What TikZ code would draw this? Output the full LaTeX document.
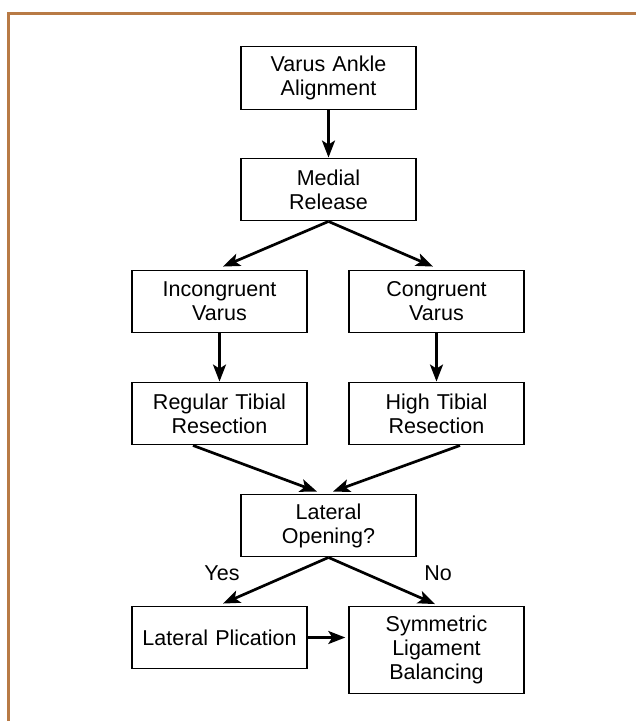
\documentclass[tikz,border=0pt]{standalone}
\usepackage{fontspec}
\setmainfont{Liberation Sans}
\usetikzlibrary{arrows.meta}
\definecolor{framebrown}{RGB}{184,122,69}

\begin{document}
\begin{tikzpicture}[x=1pt,y=-1pt,
    stepbox/.style={draw=black,line width=1.4pt,minimum width=175pt,minimum height=62.5pt,
                    text width=172pt,align=center,inner sep=0pt,
                    font=\fontsize{21.5}{24}\selectfont},
    flow/.style={line width=2.7pt,-{Stealth[length=17pt,width=13pt,inset=4pt]}},
    answer/.style={font=\fontsize{21.5}{24}\selectfont}]
      \useasboundingbox (0,0) rectangle (636,721);
      \draw[framebrown,line width=2.6pt] (8.5,721) -- (8.5,13.5) -- (636,13.5);
      % boxes
      \node[stepbox] (varus) at (328.5,78) {Varus Ankle\\Alignment};
      \node[stepbox] (medial) at (328.5,189.5) {Medial\\Release};
      \node[stepbox] (incong) at (219.5,301.5) {Incongruent\\Varus};
      \node[stepbox] (cong) at (436.5,301.5) {Congruent\\Varus};
      \node[stepbox] (regular) at (219.5,413.5) {Regular Tibial\\Resection};
      \node[stepbox] (high) at (436.5,413.5) {High Tibial\\Resection};
      \node[stepbox] (lateral) at (328.5,525.5) {Lateral\\Opening?};
      \node[stepbox] (plication) at (219.5,637.5) {Lateral Plication};
      \node[stepbox,minimum height=86.5pt] (symmetric) at (436.5,650) {Symmetric\\Ligament\\Balancing};
      \node[answer] (yes) at (222,573) {Yes};
      \node[answer] (no) at (438,573) {No};
      % arrows
      \draw[flow] (varus.south) -- (medial.north);
      \draw[flow] (medial.south) -- ([xshift=3.5pt,yshift=3pt]incong.north);
      \draw[flow] (medial.south) -- ([xshift=-3.5pt,yshift=3pt]cong.north);
      \draw[flow] (incong.south) -- (regular.north);
      \draw[flow] (cong.south) -- (high.north);
      \draw[flow] ([xshift=-26.5pt]regular.south) -- ([xshift=-11.5pt,yshift=2pt]lateral.north);
      \draw[flow] ([xshift=23.5pt]high.south) -- ([xshift=4.5pt,yshift=2pt]lateral.north);
      \draw[flow] (lateral.south) -- ([xshift=3.5pt,yshift=2pt]plication.north);
      \draw[flow] (lateral.south) -- ([xshift=-1.5pt,yshift=2pt]symmetric.north);
      \draw[flow] (plication.east) -- ([xshift=-3pt]plication.east -| symmetric.west);
\end{tikzpicture}
\end{document}
